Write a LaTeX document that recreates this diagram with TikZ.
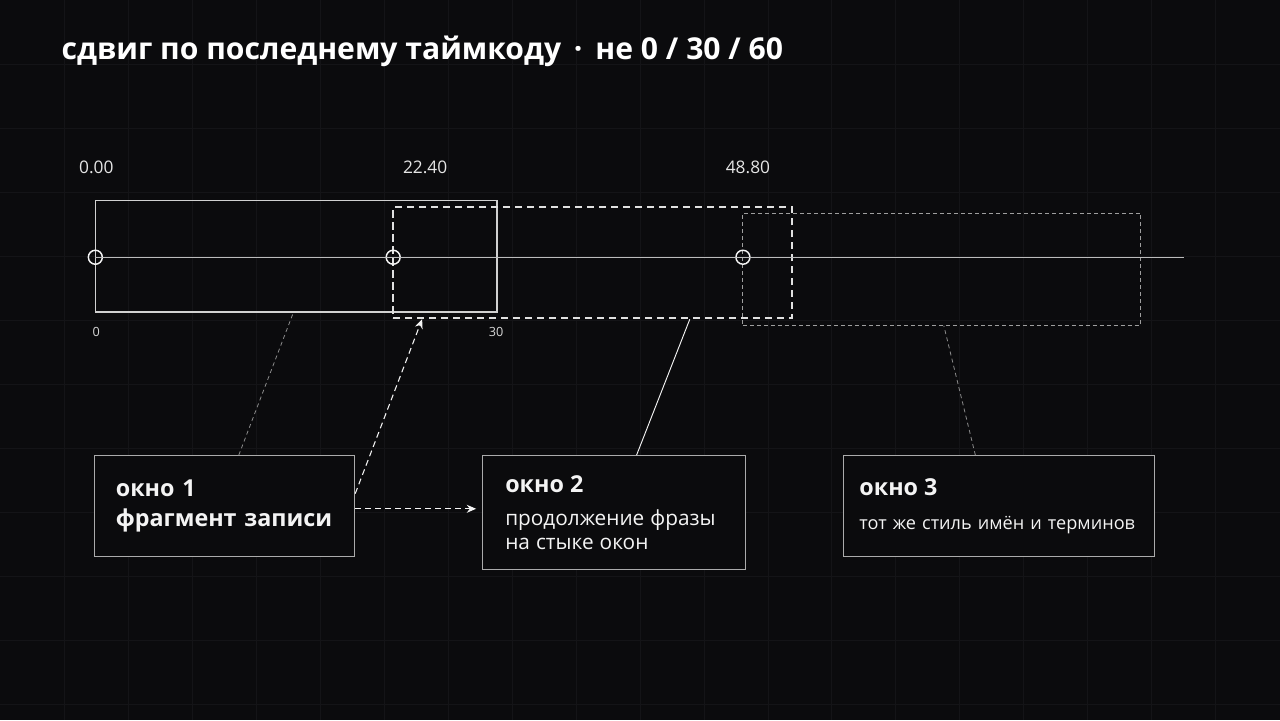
\documentclass[tikz,border=0pt]{standalone}
\usepackage{fontspec}
\setmainfont{Open Sans}
\setsansfont{Open Sans}
\usetikzlibrary{positioning}
\usetikzlibrary{arrows.meta}
\definecolor{grund}{HTML}{0B0B0D}
\definecolor{raster}{HTML}{141417}
\definecolor{achse}{HTML}{BCBCBC}
\definecolor{rahmen}{HTML}{ABABAB}
\definecolor{weiss}{HTML}{F4F4F4}
\definecolor{grau}{HTML}{8C8C8C}
\newcommand{\kopf}{\fontsize{17.5}{22.5}\selectfont\bfseries}
\newcommand{\fliess}{\fontsize{13.6}{18}\selectfont}
\tikzset{
	>={Stealth[length=7pt,width=6pt]},
	gitter/.style={draw=raster, line width=0.6pt},
	fenster/.style={
		rectangle,
		draw=rahmen, line width=0.8pt,
		fill=grund,
		anchor=north west,
		inner ysep=0pt,
		align=left,
		text=weiss},
	abschnitt/.style={rectangle, inner sep=0pt},
	marke/.style={circle, draw=weiss, line width=1.1pt, minimum size=10.5pt, inner sep=0pt},
	zeit/.style={text=weiss!94!black, font=\fontsize{13}{15}\selectfont},
	tick/.style={text=weiss!88!black, font=\fontsize{9.5}{11}\selectfont},
	pfeil/.style={draw=weiss, line width=0.8pt, dash pattern=on 4.5pt off 3pt, ->},
	bezug/.style={draw=grau, line width=0.6pt, dash pattern=on 3pt off 2.5pt},
}
\begin{document}
\begin{tikzpicture}
	[x=0.75pt, y=-0.75pt, font=\sffamily]

	% hintergrund mit raster
	\fill[grund] (0,0) rectangle (1280,720);
	\foreach \gx in {64,128,...,1216} \draw[gitter] (\gx,0) -- (\gx,720);
	\foreach \gy in {64,128,...,704} \draw[gitter] (0,\gy) -- (1280,\gy);
	\useasboundingbox (0,0) rectangle (1280,720);

	\node[anchor=base west, inner sep=0pt, text=white, font=\fontsize{22.6}{27}\selectfont\bfseries] (titel) at (61,59)
		{сдвиг по последнему таймкоду \,·\, не 0 / 30 / 60};

	% fenster auf der zeitachse
	\node[abschnitt, draw=white!82!black, line width=1.1pt, minimum width=301.5pt, minimum height=84pt] (seg1) at (296,256) {};
	\node[abschnitt, draw=white!88!black, line width=1.5pt, dash pattern=on 5.5pt off 3.5pt, minimum width=299.25pt, minimum height=83.25pt] (seg2) at (592.5,262.5) {};
	\node[abschnitt, draw=white!62!black, line width=0.8pt, dash pattern=on 3pt off 2.25pt, minimum width=298.5pt, minimum height=84pt] (seg3) at (942,269) {};

	\coordinate (ende) at (1184,257);
	\node[marke] (t0) at (95,257) {};
	\node[marke] (t1) at (393,257) {};
	\node[marke] (t2) at (743,257) {};
	\draw[achse, line width=1pt] (t0.center) -- (ende);

	\node[zeit] (z0) at (96,167) {0.00};
	\node[zeit] (z1) at (425,167) {22.40};
	\node[zeit] (z2) at (748,167) {48.80};
	\node[tick] (k0) at (96,332) {0};
	\node[tick] (k1) at (496,332) {30};

	% die drei fenster
	\node[fenster, inner xsep=15.75pt, text width=163.5pt, minimum height=75.75pt, font=\kopf] (eins) at (94,455)
		{окно 1\\ фрагмент записи};
	\node[fenster, inner xsep=17pt, text width=163.25pt, minimum height=85.5pt, font=\fliess] (zwei) at (482,455)
		{{\kopf окно 2}\\[6.75pt] {\fontsize{15.6}{18}\selectfont продолжение фразы\\ на стыке окон}};
	\node[fenster, inner xsep=12pt, text width=209.25pt, minimum height=75.75pt, font=\fliess] (drei) at (843,455)
		{{\kopf окно 3}\\[7.5pt] тот же стиль имён и терминов};

	% verbindungen
	\draw[bezug] ([xshift=10.5pt]eins.north) -- ([xshift=-2.25pt]seg1.south);
	\draw[pfeil] ([yshift=9.4pt]eins.east) -- ([xshift=22.5pt]seg2.south west);
	\draw[pfeil, shorten >=4.5pt] ([yshift=-2pt]eins.east) -- ([yshift=-2pt]eins.east -| zwei.west);
	\draw[draw=weiss, line width=0.7pt] ([xshift=16.9pt]zwei.north) -- ([xshift=73pt]seg2.south);
	\draw[bezug] ([xshift=-17.6pt]drei.north) -- ([xshift=1.5pt]seg3.south);

\end{tikzpicture}
\end{document}
